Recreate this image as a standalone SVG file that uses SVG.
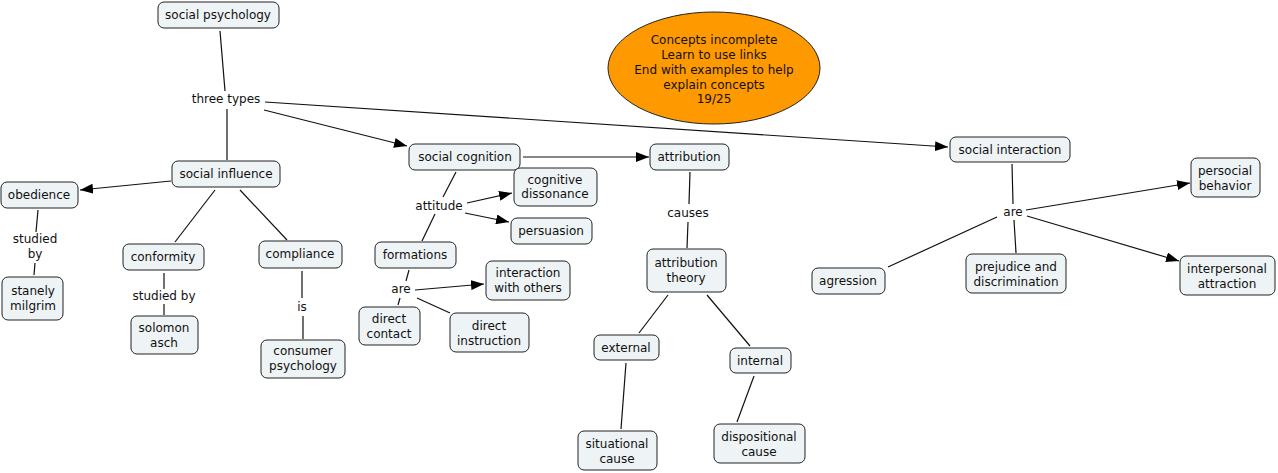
<svg xmlns="http://www.w3.org/2000/svg" width="1278" height="473" viewBox="0 0 1278 473">
<style>
.n rect{fill:#eef3f5;stroke:#222;stroke-width:1}
text{font-family:"DejaVu Sans",Verdana,sans-serif;font-size:12px;fill:#111;text-anchor:middle}
.c line{stroke:#111;stroke-width:1.2}
.a{marker-end:url(#ah)}
</style>
<defs>
<marker id="ah" markerUnits="userSpaceOnUse" markerWidth="14" markerHeight="10" refX="13" refY="5" orient="auto">
<path d="M0,0 L13,5 L0,10 z" fill="#000"/>
</marker>
</defs>
<rect width="1278" height="473" fill="#fff"/>
<g id="connectors" class="c">
<line x1="220" y1="31" x2="225" y2="91"/>
<line x1="227" y1="109" x2="227" y2="160"/>
<line class="a" x1="264" y1="110" x2="407" y2="146"/>
<line class="a" x1="265" y1="102" x2="948" y2="147"/>
<line class="a" x1="171" y1="181" x2="80" y2="190"/>
<line x1="215" y1="190" x2="175" y2="242"/>
<line x1="240" y1="190" x2="287" y2="240"/>
<line x1="38" y1="210" x2="36" y2="232"/>
<line x1="35" y1="263" x2="34" y2="275"/>
<line x1="164" y1="273" x2="164" y2="289"/>
<line x1="164" y1="304" x2="164" y2="315"/>
<line x1="302" y1="271" x2="302" y2="298"/>
<line x1="303" y1="316" x2="303" y2="339"/>
<line x1="456" y1="172" x2="443" y2="197"/>
<line x1="435" y1="214" x2="422" y2="241"/>
<line class="a" x1="467" y1="203" x2="512" y2="193"/>
<line class="a" x1="465" y1="213" x2="509" y2="222"/>
<line x1="409" y1="270" x2="406" y2="281"/>
<line x1="400" y1="298" x2="398" y2="305"/>
<line class="a" x1="415" y1="290" x2="484" y2="284"/>
<line x1="417" y1="298" x2="450" y2="313"/>
<line class="a" x1="523" y1="157" x2="649" y2="157"/>
<line x1="690" y1="172" x2="689" y2="204"/>
<line x1="688" y1="222" x2="687" y2="248"/>
<line x1="668" y1="295" x2="639" y2="333"/>
<line x1="707" y1="295" x2="750" y2="346"/>
<line x1="626" y1="363" x2="621" y2="429"/>
<line x1="754" y1="376" x2="737" y2="422"/>
<line x1="1012" y1="164" x2="1013" y2="204"/>
<line x1="1014" y1="220" x2="1016" y2="253"/>
<line x1="997" y1="217" x2="888" y2="267"/>
<line class="a" x1="1026" y1="210" x2="1190" y2="183"/>
<line class="a" x1="1027" y1="216" x2="1179" y2="261"/>
</g>
<g id="labels">
<text x="226" y="103">three types</text>
<text x="35" y="243">studied</text>
<text x="35" y="258">by</text>
<text x="164" y="300">studied by</text>
<text x="302" y="311">is</text>
<text x="439" y="210">attitude</text>
<text x="401" y="293">are</text>
<text x="688" y="217">causes</text>
<text x="1013" y="216">are</text>
</g>
<g id="note">
<ellipse cx="714" cy="68" rx="106" ry="56" fill="#ff9900" stroke="#222" stroke-width="1"/>
<text x="714" y="44">Concepts incomplete</text>
<text x="714" y="59">Learn to use links</text>
<text x="714" y="74">End with examples to help</text>
<text x="714" y="89">explain concepts</text>
<text x="714" y="103">19/25</text>
</g>
<g id="social-psychology" class="n"><rect x="158" y="2" width="121" height="26" rx="6"/><text x="218" y="19">social psychology</text></g>
<g id="social-influence" class="n"><rect x="172" y="161" width="108" height="26" rx="6"/><text x="226" y="178">social influence</text></g>
<g id="obedience" class="n"><rect x="1" y="182" width="77" height="26" rx="6"/><text x="39" y="199">obedience</text></g>
<g id="conformity" class="n"><rect x="123" y="244" width="81" height="26" rx="6"/><text x="163" y="261">conformity</text></g>
<g id="compliance" class="n"><rect x="259" y="241" width="83" height="27" rx="6"/><text x="300" y="258">compliance</text></g>
<g id="stanely-milgrim" class="n"><rect x="2" y="277" width="61" height="43" rx="6"/><text x="33" y="295">stanely</text><text x="33" y="310">milgrim</text></g>
<g id="solomon-asch" class="n"><rect x="131" y="316" width="67" height="38" rx="6"/><text x="164" y="332">solomon</text><text x="164" y="347">asch</text></g>
<g id="consumer-psychology" class="n"><rect x="261" y="340" width="84" height="38" rx="6"/><text x="303" y="355">consumer</text><text x="303" y="370">psychology</text></g>
<g id="social-cognition" class="n"><rect x="409" y="144" width="111" height="26" rx="6"/><text x="465" y="161">social cognition</text></g>
<g id="cognitive-dissonance" class="n"><rect x="514" y="168" width="83" height="38" rx="6"/><text x="555" y="184">cognitive</text><text x="555" y="198">dissonance</text></g>
<g id="persuasion" class="n"><rect x="511" y="218" width="81" height="26" rx="6"/><text x="551" y="235">persuasion</text></g>
<g id="formations" class="n"><rect x="375" y="242" width="81" height="26" rx="6"/><text x="415" y="259">formations</text></g>
<g id="interaction-with-others" class="n"><rect x="486" y="261" width="84" height="39" rx="6"/><text x="528" y="277">interaction</text><text x="528" y="292">with others</text></g>
<g id="direct-contact" class="n"><rect x="359" y="307" width="61" height="38" rx="6"/><text x="389" y="323">direct</text><text x="389" y="338">contact</text></g>
<g id="direct-instruction" class="n"><rect x="450" y="313" width="79" height="39" rx="6"/><text x="489" y="330">direct</text><text x="489" y="345">instruction</text></g>
<g id="attribution" class="n"><rect x="650" y="144" width="79" height="26" rx="6"/><text x="689" y="161">attribution</text></g>
<g id="attribution-theory" class="n"><rect x="647" y="249" width="79" height="43" rx="6"/><text x="686" y="267">attribution</text><text x="686" y="282">theory</text></g>
<g id="external" class="n"><rect x="594" y="335" width="65" height="25" rx="6"/><text x="626" y="352">external</text></g>
<g id="internal" class="n"><rect x="730" y="348" width="61" height="25" rx="6"/><text x="760" y="365">internal</text></g>
<g id="situational-cause" class="n"><rect x="578" y="431" width="79" height="39" rx="6"/><text x="617" y="448">situational</text><text x="617" y="463">cause</text></g>
<g id="dispositional-cause" class="n"><rect x="714" y="424" width="91" height="39" rx="6"/><text x="759" y="441">dispositional</text><text x="759" y="456">cause</text></g>
<g id="social-interaction" class="n"><rect x="950" y="137" width="120" height="25" rx="6"/><text x="1010" y="154">social interaction</text></g>
<g id="persocial-behavior" class="n"><rect x="1191" y="158" width="69" height="39" rx="6"/><text x="1225" y="175">persocial</text><text x="1225" y="190">behavior</text></g>
<g id="agression" class="n"><rect x="812" y="268" width="73" height="26" rx="6"/><text x="848" y="285">agression</text></g>
<g id="prejudice-and-discrimination" class="n"><rect x="966" y="254" width="100" height="39" rx="6"/><text x="1016" y="271">prejudice and</text><text x="1016" y="286">discrimination</text></g>
<g id="interpersonal-attraction" class="n"><rect x="1180" y="256" width="95" height="39" rx="6"/><text x="1227" y="273">interpersonal</text><text x="1227" y="288">attraction</text></g>
</svg>
